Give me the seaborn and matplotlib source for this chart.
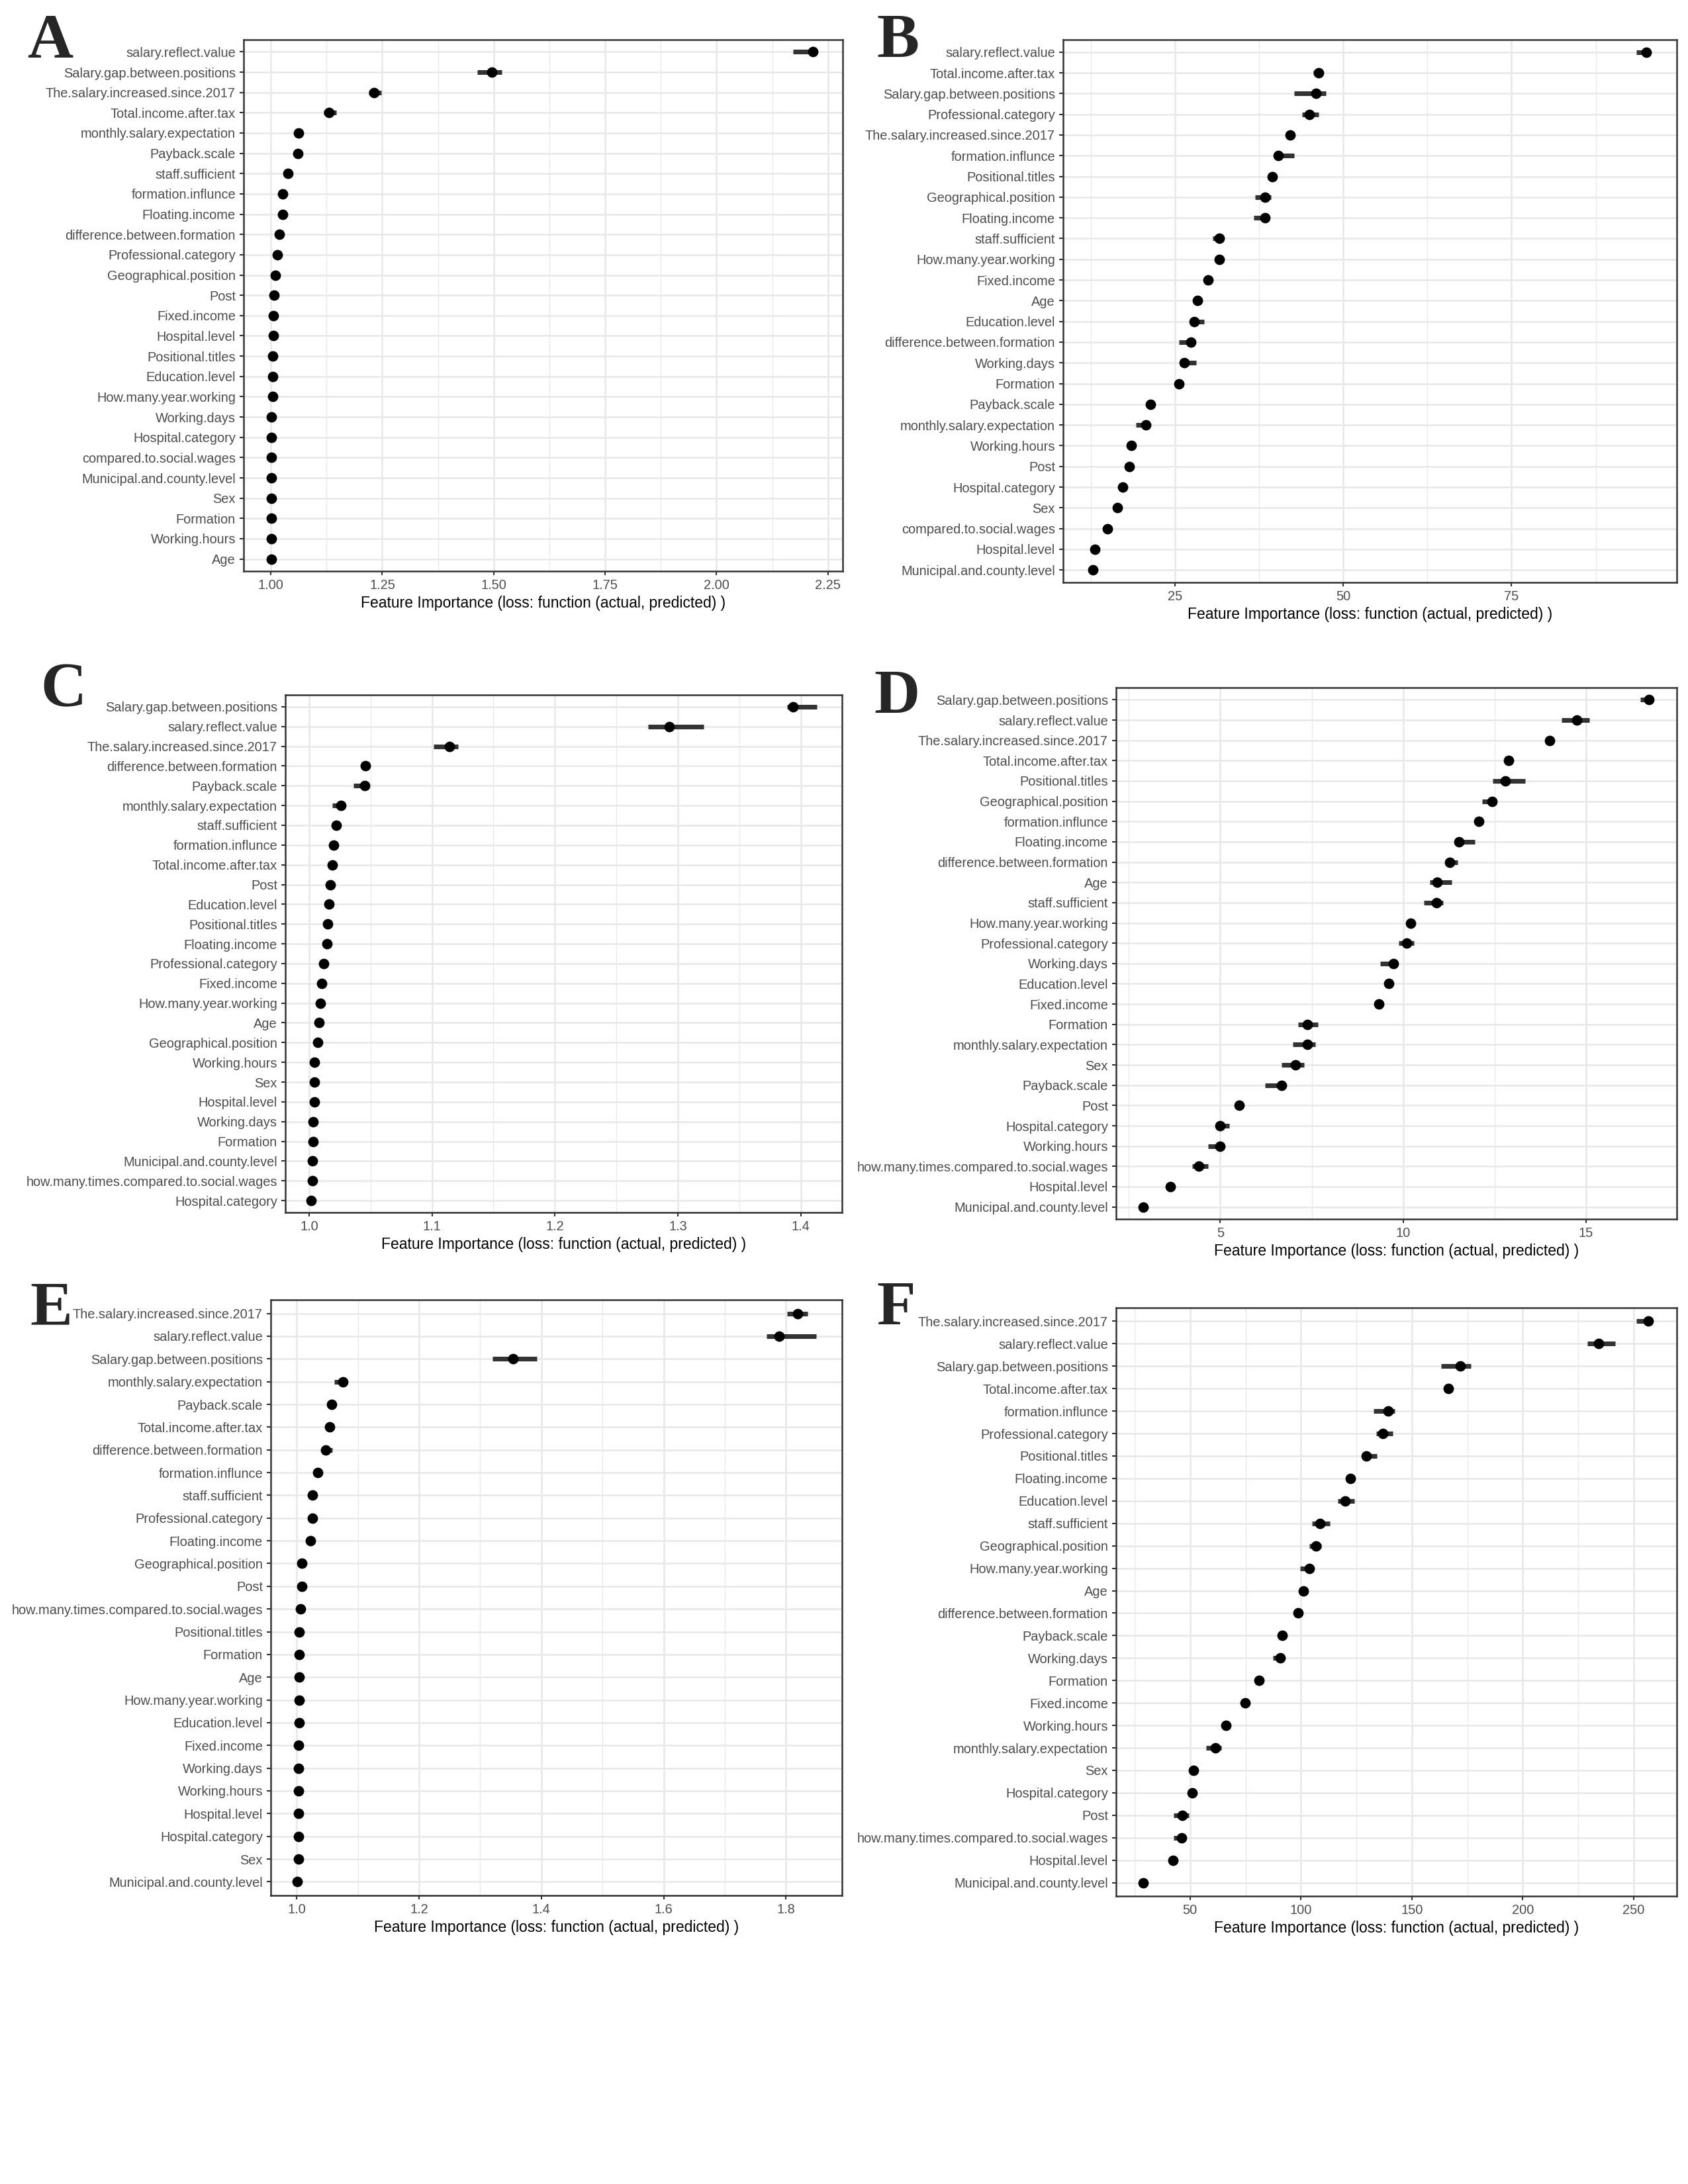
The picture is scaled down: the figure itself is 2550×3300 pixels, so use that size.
import numpy as np
import pandas as pd
import matplotlib
matplotlib.use("Agg")
import matplotlib.pyplot as plt
from matplotlib.ticker import MultipleLocator, FormatStrFormatter
import seaborn as sns

# ---- panel A ----
features_a = ["salary.reflect.value", "Salary.gap.between.positions", "The.salary.increased.since.2017",
              "Total.income.after.tax", "monthly.salary.expectation", "Payback.scale", "staff.sufficient",
              "formation.influnce", "Floating.income", "difference.between.formation", "Professional.category",
              "Geographical.position", "Post", "Fixed.income", "Hospital.level", "Positional.titles",
              "Education.level", "How.many.year.working", "Working.days", "Hospital.category",
              "compared.to.social.wages", "Municipal.and.county.level", "Sex", "Formation", "Working.hours", "Age"]
imp_a = [2.217, 1.496, 1.232, 1.130, 1.062, 1.060, 1.038, 1.027, 1.026, 1.019, 1.015, 1.010, 1.007,
         1.005, 1.005, 1.004, 1.004, 1.004, 1.002, 1.002, 1.002, 1.002, 1.002, 1.002, 1.001, 1.001]
lo_a = [2.171, 1.463, 1.220, 1.118, 1.060, 1.058, 1.036, 1.025, 1.024, 1.017, 1.013, 1.009, 1.006,
        1.004, 1.004, 1.003, 1.003, 1.003, 1.001, 1.001, 1.001, 1.001, 1.001, 1.001, 1.000, 1.000]
hi_a = [2.222, 1.518, 1.248, 1.147, 1.065, 1.063, 1.041, 1.030, 1.028, 1.021, 1.017, 1.012, 1.009,
        1.007, 1.006, 1.005, 1.005, 1.005, 1.003, 1.003, 1.003, 1.003, 1.003, 1.003, 1.002, 1.002]

# ---- panel B ----
features_b = ["salary.reflect.value", "Total.income.after.tax", "Salary.gap.between.positions",
              "Professional.category", "The.salary.increased.since.2017", "formation.influnce",
              "Positional.titles", "Geographical.position", "Floating.income", "staff.sufficient",
              "How.many.year.working", "Fixed.income", "Age", "Education.level", "difference.between.formation",
              "Working.days", "Formation", "Payback.scale", "monthly.salary.expectation", "Working.hours", "Post",
              "Hospital.category", "Sex", "compared.to.social.wages", "Hospital.level", "Municipal.and.county.level"]
imp_b = [95.0, 46.3, 45.9, 44.9, 42.1, 40.3, 39.4, 38.4, 38.4, 31.6, 31.6, 29.9, 28.3,
         27.8, 27.3, 26.4, 25.6, 21.3, 20.7, 18.5, 18.2, 17.2, 16.4, 14.9, 13.1, 12.8]
lo_b = [93.5, 45.5, 42.7, 43.9, 41.8, 39.9, 39.1, 36.9, 36.7, 30.6, 31.3, 29.6, 28.0,
        27.2, 25.6, 26.0, 25.3, 21.0, 19.2, 18.2, 17.9, 16.9, 16.1, 14.6, 12.8, 12.5]
hi_b = [95.4, 46.7, 47.4, 46.3, 42.4, 42.7, 39.7, 39.2, 38.7, 32.1, 31.9, 30.2, 28.6,
        29.3, 27.8, 28.1, 25.9, 21.6, 21.0, 18.8, 18.5, 17.5, 16.7, 15.2, 13.4, 13.1]

# ---- panel C ----
features_c = ["Salary.gap.between.positions", "salary.reflect.value", "The.salary.increased.since.2017",
              "difference.between.formation", "Payback.scale", "monthly.salary.expectation", "staff.sufficient",
              "formation.influnce", "Total.income.after.tax", "Post", "Education.level", "Positional.titles",
              "Floating.income", "Professional.category", "Fixed.income", "How.many.year.working", "Age",
              "Geographical.position", "Working.hours", "Sex", "Hospital.level", "Working.days", "Formation",
              "Municipal.and.county.level", "how.many.times.compared.to.social.wages", "Hospital.category"]
imp_c = [1.394, 1.293, 1.114, 1.046, 1.045, 1.026, 1.022, 1.020, 1.019, 1.017, 1.016, 1.015, 1.0145,
         1.012, 1.010, 1.009, 1.008, 1.007, 1.0044, 1.0044, 1.0043, 1.0035, 1.0035, 1.0026, 1.0026, 1.0018]
lo_c = [1.389, 1.276, 1.101, 1.045, 1.036, 1.019, 1.019, 1.019, 1.018, 1.016, 1.015, 1.014, 1.0135,
        1.011, 1.009, 1.008, 1.007, 1.006, 1.0035, 1.0035, 1.0035, 1.0028, 1.0028, 1.0020, 1.0020, 1.0012]
hi_c = [1.413, 1.321, 1.121, 1.048, 1.049, 1.029, 1.025, 1.022, 1.020, 1.018, 1.017, 1.016, 1.0155,
        1.013, 1.011, 1.010, 1.009, 1.008, 1.0050, 1.0050, 1.0050, 1.0042, 1.0042, 1.0033, 1.0033, 1.0025]

# ---- panel D ----
features_d = ["Salary.gap.between.positions", "salary.reflect.value", "The.salary.increased.since.2017",
              "Total.income.after.tax", "Positional.titles", "Geographical.position", "formation.influnce",
              "Floating.income", "difference.between.formation", "Age", "staff.sufficient",
              "How.many.year.working", "Professional.category", "Working.days", "Education.level",
              "Fixed.income", "Formation", "monthly.salary.expectation", "Sex", "Payback.scale", "Post",
              "Hospital.category", "Working.hours", "how.many.times.compared.to.social.wages",
              "Hospital.level", "Municipal.and.county.level"]
imp_d = [16.72, 14.75, 14.00, 12.89, 12.79, 12.43, 12.07, 11.52, 11.27, 10.93, 10.91, 10.20, 10.10,
         9.73, 9.61, 9.34, 7.38, 7.38, 7.05, 6.68, 5.52, 5.00, 5.00, 4.41, 3.63, 2.90]
lo_d = [16.49, 14.33, 13.95, 12.84, 12.44, 12.15, 12.02, 11.43, 11.14, 10.72, 10.57, 10.15, 9.87,
        9.37, 9.56, 9.29, 7.12, 6.98, 6.68, 6.23, 5.47, 4.92, 4.67, 4.23, 3.58, 2.85]
hi_d = [16.78, 15.08, 14.05, 12.94, 13.34, 12.55, 12.12, 11.95, 11.48, 11.33, 11.09, 10.25, 10.29,
        9.80, 9.66, 9.39, 7.67, 7.60, 7.30, 6.75, 5.57, 5.25, 5.07, 4.67, 3.68, 2.95]

# ---- panel E ----
features_e = ["The.salary.increased.since.2017", "salary.reflect.value", "Salary.gap.between.positions",
              "monthly.salary.expectation", "Payback.scale", "Total.income.after.tax",
              "difference.between.formation", "formation.influnce", "staff.sufficient", "Professional.category",
              "Floating.income", "Geographical.position", "Post", "how.many.times.compared.to.social.wages",
              "Positional.titles", "Formation", "Age", "How.many.year.working", "Education.level", "Fixed.income",
              "Working.days", "Working.hours", "Hospital.level", "Hospital.category", "Sex",
              "Municipal.and.county.level"]
imp_e = [1.819, 1.789, 1.354, 1.075, 1.057, 1.054, 1.047, 1.034, 1.026, 1.026, 1.022, 1.008, 1.008,
         1.006, 1.0045, 1.0045, 1.0045, 1.0045, 1.0045, 1.003, 1.003, 1.003, 1.003, 1.003, 1.003, 1.001]
lo_e = [1.802, 1.768, 1.320, 1.061, 1.055, 1.052, 1.045, 1.032, 1.024, 1.024, 1.020, 1.006, 1.006,
        1.005, 1.0035, 1.0035, 1.0035, 1.0035, 1.0035, 1.002, 1.002, 1.002, 1.002, 1.002, 1.002, 1.000]
hi_e = [1.835, 1.849, 1.393, 1.081, 1.059, 1.056, 1.058, 1.036, 1.028, 1.028, 1.024, 1.010, 1.010,
        1.008, 1.0055, 1.0055, 1.0055, 1.0055, 1.0055, 1.004, 1.004, 1.004, 1.004, 1.004, 1.004, 1.002]

# ---- panel F ----
features_f = ["The.salary.increased.since.2017", "salary.reflect.value", "Salary.gap.between.positions",
              "Total.income.after.tax", "formation.influnce", "Professional.category", "Positional.titles",
              "Floating.income", "Education.level", "staff.sufficient", "Geographical.position",
              "How.many.year.working", "Age", "difference.between.formation", "Payback.scale", "Working.days",
              "Formation", "Fixed.income", "Working.hours", "monthly.salary.expectation", "Sex",
              "Hospital.category", "Post", "how.many.times.compared.to.social.wages", "Hospital.level",
              "Municipal.and.county.level"]
imp_f = [256.8, 234.3, 172.0, 166.4, 139.4, 137.0, 129.6, 122.3, 119.8, 108.6, 106.8, 103.9, 101.2,
         98.8, 91.4, 90.7, 81.1, 74.7, 66.2, 61.5, 51.5, 51.0, 46.6, 46.1, 42.2, 28.7]
lo_f = [251.4, 229.3, 163.2, 165.8, 132.6, 133.8, 127.7, 121.7, 116.6, 104.9, 103.9, 99.7, 99.5,
        97.8, 90.3, 87.5, 80.5, 74.1, 64.5, 57.1, 50.9, 50.4, 42.6, 42.6, 41.6, 28.1]
hi_f = [258.0, 241.6, 176.7, 167.0, 142.4, 141.4, 134.3, 122.9, 124.0, 113.0, 109.3, 105.6, 103.3,
        100.0, 92.3, 92.0, 81.7, 75.3, 67.2, 64.0, 52.4, 51.6, 49.3, 47.8, 42.8, 29.3]

XLABEL = "Feature Importance (loss: function (actual, predicted) )"

sns.set_theme(style="white")
plt.rcParams['font.family'] = ['Liberation Sans', 'DejaVu Sans']


def draw_panel(ax, features, imp, lo, hi, step, fmt):
    # three values per feature: lower, importance, upper -> median point + min/max interval
    df = pd.DataFrame({
        "feature": np.repeat(features, 3),
        "value": np.column_stack([lo, imp, hi]).ravel(),
    })
    sns.pointplot(data=df, x="value", y="feature", order=features, estimator="median",
                  errorbar=("pi", 100), color="black", linestyle="none", marker="o",
                  markersize=3.3, markeredgewidth=0.5, zorder=3,
                  err_kws={"linewidth": 1.7, "color": "#333333", "zorder": 2, "solid_capstyle": "butt"},
                  ax=ax)
    n = len(features)
    ax.set_ylim(n - 1 + 0.6, -0.6)
    xmin, xmax = min(lo), max(hi)
    pad = 0.05 * (xmax - xmin)
    ax.set_xlim(xmin - pad, xmax + pad)
    ax.xaxis.set_major_locator(MultipleLocator(step))
    ax.xaxis.set_minor_locator(MultipleLocator(step / 2))
    ax.xaxis.set_major_formatter(FormatStrFormatter(fmt))
    ax.grid(True, which="major", color="#E8E8E8", linewidth=0.6)
    ax.grid(True, which="minor", axis="x", color="#EBEBEB", linewidth=0.35)
    ax.set_axisbelow(True)
    for s in ax.spines.values():
        s.set_visible(True)
        s.set_color("#333333")
        s.set_linewidth(0.6)
    ax.tick_params(axis="both", which="major", length=1.5, width=0.5, color="#333333",
                   labelsize=4.8, labelcolor="#4D4D4D", pad=1.4, left=True, bottom=True)
    ax.tick_params(which="minor", length=0)
    ax.set_ylabel("")
    ax.set_xlabel(XLABEL, fontsize=5.5, color="black", labelpad=1.5)


fig = plt.figure(figsize=(8.5, 11), dpi=300)
W, H = 2550, 3300


def add_ax(x1, y1, x2, y2):
    return fig.add_axes([x1 / W, 1 - y2 / H, (x2 - x1) / W, (y2 - y1) / H])


# letter, axes box (px: left, top, right, bottom), letter position (px), data, tick step, tick format
panels = [
    ("A", (368, 60, 1273, 863), (41, 21), features_a, imp_a, lo_a, hi_a, 0.25, "%.2f"),
    ("B", (1606, 60, 2533, 880), (1324, 21), features_b, imp_b, lo_b, hi_b, 25, "%d"),
    ("C", (431, 1050, 1272, 1832), (61, 1001), features_c, imp_c, lo_c, hi_c, 0.1, "%.1f"),
    ("D", (1686, 1039, 2533, 1842), (1320, 1012), features_d, imp_d, lo_d, hi_d, 5, "%d"),
    ("E", (409, 1964, 1272, 2864), (45, 1936), features_e, imp_e, lo_e, hi_e, 0.2, "%.1f"),
    ("F", (1686, 1976, 2533, 2865), (1324, 1936), features_f, imp_f, lo_f, hi_f, 50, "%d"),
]

for letter, box, pos, feats, imp, lo, hi, step, fmt in panels:
    ax = add_ax(*box)
    draw_panel(ax, feats, imp, lo, hi, step, fmt)
    fig.text(pos[0] / W, 1 - pos[1] / H, letter, fontfamily=["Liberation Serif", "DejaVu Serif"],
             fontweight="bold", fontsize=23, va="top", ha="left")

fig.savefig("out.png", dpi=300, facecolor="white")
